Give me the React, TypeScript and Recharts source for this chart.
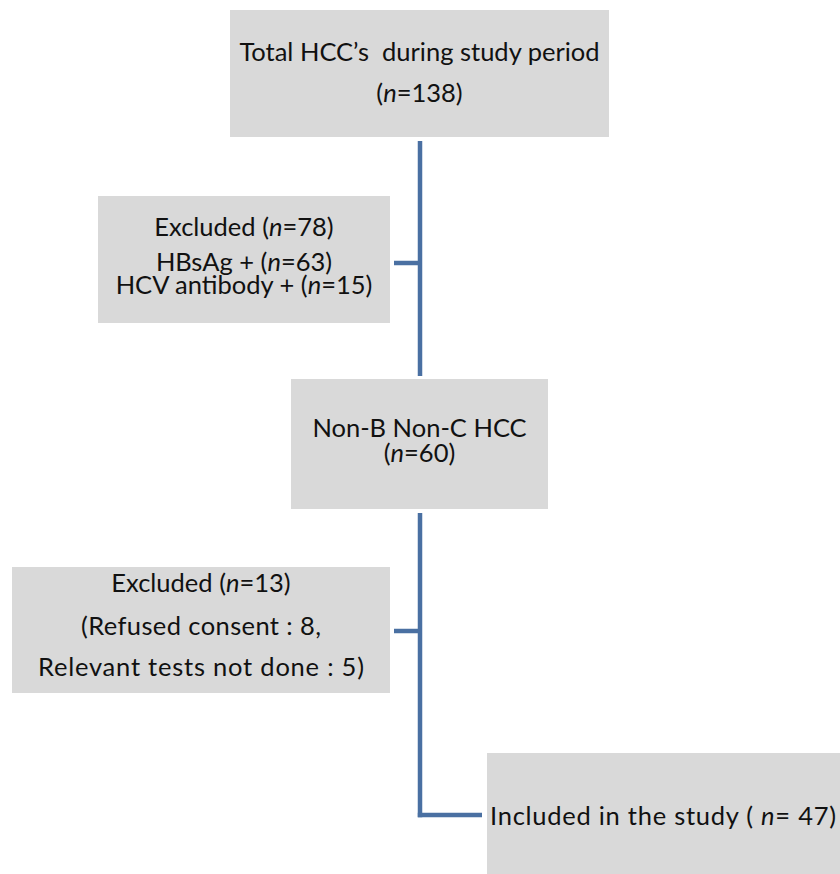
import React from "react";
import { ComposedChart, XAxis, YAxis, ReferenceArea, ReferenceLine } from "recharts";

// ---- content ----
const stageTitles = [
  "Total HCC\u2019s  during study period",
  "Excluded",
  "Non-B Non-C HCC",
  "Excluded",
  "Included in the study",
];
const stageCounts = [138, 78, 60, 13, 47];
const exclusion1Reasons = ["HBsAg +", "HCV antibody +"];
const exclusion1Counts = [63, 15];
const exclusion2Reasons = ["Refused consent", "Relevant tests not done"];
const exclusion2Counts = [8, 5];

// ---- layout (chart coordinates) ----
const W = 840;
const H = 874;
const boxes = [
  { x1: 230, x2: 609, y1: 10, y2: 137 },
  { x1: 98, x2: 390, y1: 196, y2: 323 },
  { x1: 291, x2: 548, y1: 379, y2: 509 },
  { x1: 12, x2: 390, y1: 567, y2: 693 },
  { x1: 487, x2: 840, y1: 753, y2: 874 },
];
const spineX = 420;
const connectors = [
  [{ x: spineX, y: 141 }, { x: spineX, y: 376 }],
  [{ x: 394, y: 263 }, { x: spineX, y: 263 }],
  [{ x: spineX, y: 513 }, { x: spineX, y: 817.2 }],
  [{ x: 394, y: 631 }, { x: spineX, y: 631 }],
  [{ x: spineX - 2.2, y: 815 }, { x: 482, y: 815 }],
];

const FONT = "Lato, 'Open Sans', sans-serif";
const FS = 25.5;
const BOX_FILL = "#d9d9d9";
const LINE = "#4a70a2";

type Piece = { t: string; italic?: boolean };
type TLine = { pieces: Piece[]; dy: number; len?: number };

const nLine = (prefix: string, n: number, suffix = ")", sep = "="): Piece[] => [
  { t: prefix + "(" },
  { t: "n", italic: true },
  { t: sep + n + suffix },
];

const boxLines: { lines: TLine[]; anchor: "middle" | "start"; dx?: number }[] = [
  {
    anchor: "middle",
    lines: [
      { pieces: [{ t: stageTitles[0] }], dy: 51 },
      { pieces: nLine("", stageCounts[0]), dy: 92 },
    ],
  },
  {
    anchor: "middle",
    lines: [
      { pieces: nLine(stageTitles[1] + " ", stageCounts[1]), dy: 40 },
      { pieces: nLine(exclusion1Reasons[0] + " ", exclusion1Counts[0]), dy: 75 },
      { pieces: nLine(exclusion1Reasons[1] + " ", exclusion1Counts[1]), dy: 98 },
    ],
  },
  {
    anchor: "middle",
    lines: [
      { pieces: [{ t: stageTitles[2] }], dy: 58 },
      { pieces: nLine("", stageCounts[2]), dy: 83 },
    ],
  },
  {
    anchor: "middle",
    lines: [
      { pieces: nLine(stageTitles[3] + " ", stageCounts[3]), dy: 25 },
      { pieces: [{ t: `(${exclusion2Reasons[0]} : ${exclusion2Counts[0]},` }], dy: 68, len: 240 },
      { pieces: [{ t: `${exclusion2Reasons[1]} : ${exclusion2Counts[1]})` }], dy: 109, len: 326 },
    ],
  },
  {
    anchor: "start",
    dx: 3,
    lines: [
      {
        pieces: [
          { t: stageTitles[4] + " ( " },
          { t: "n", italic: true },
          { t: "= " + stageCounts[4] + ")" },
        ],
        dy: 72,
        len: 346,
      },
    ],
  },
];

const BoxText = (props: any) => {
  const { viewBox, spec } = props;
  if (!viewBox) return null;
  const { x, y, width } = viewBox;
  const tx = spec.anchor === "middle" ? x + width / 2 : x + (spec.dx || 0);
  return (
    <g>
      {spec.lines.map((ln: TLine, i: number) => (
        <text
          key={i}
          x={tx}
          y={y + ln.dy}
          textAnchor={spec.anchor}
          fontFamily={FONT}
          fontSize={FS}
          fill="#111"
          style={{ whiteSpace: "pre" }}
          {...(ln.len ? { textLength: ln.len, lengthAdjust: "spacing" } : {})}
        >
          {ln.pieces.map((p, j) => (
            <tspan key={j} fontStyle={p.italic ? "italic" : "normal"}>
              {p.t}
            </tspan>
          ))}
        </text>
      ))}
    </g>
  );
};

export default function App() {
  return (
    <div style={{ position: "absolute", left: 0, top: 0, width: W, height: H, background: "#fff" }}>
      <ComposedChart width={W} height={H} margin={{ top: 0, right: 0, bottom: 0, left: 0 }} data={[]}>
        <XAxis type="number" dataKey="x" domain={[0, W]} hide allowDataOverflow />
        <YAxis type="number" dataKey="y" domain={[0, H]} reversed hide allowDataOverflow />
        {boxes.map((b, i) => (
          <ReferenceArea
            key={"b" + i}
            x1={b.x1}
            x2={b.x2}
            y1={b.y1}
            y2={b.y2}
            fill={BOX_FILL}
            fillOpacity={1}
            stroke="none"
            ifOverflow="visible"
            label={(p: any) => <BoxText viewBox={p.viewBox} spec={boxLines[i]} />}
          />
        ))}
        {connectors.map((seg, i) => (
          <ReferenceLine
            key={"c" + i}
            segment={seg}
            stroke={LINE}
            strokeWidth={4.5}
            ifOverflow="visible"
          />
        ))}
      </ComposedChart>
    </div>
  );
}
